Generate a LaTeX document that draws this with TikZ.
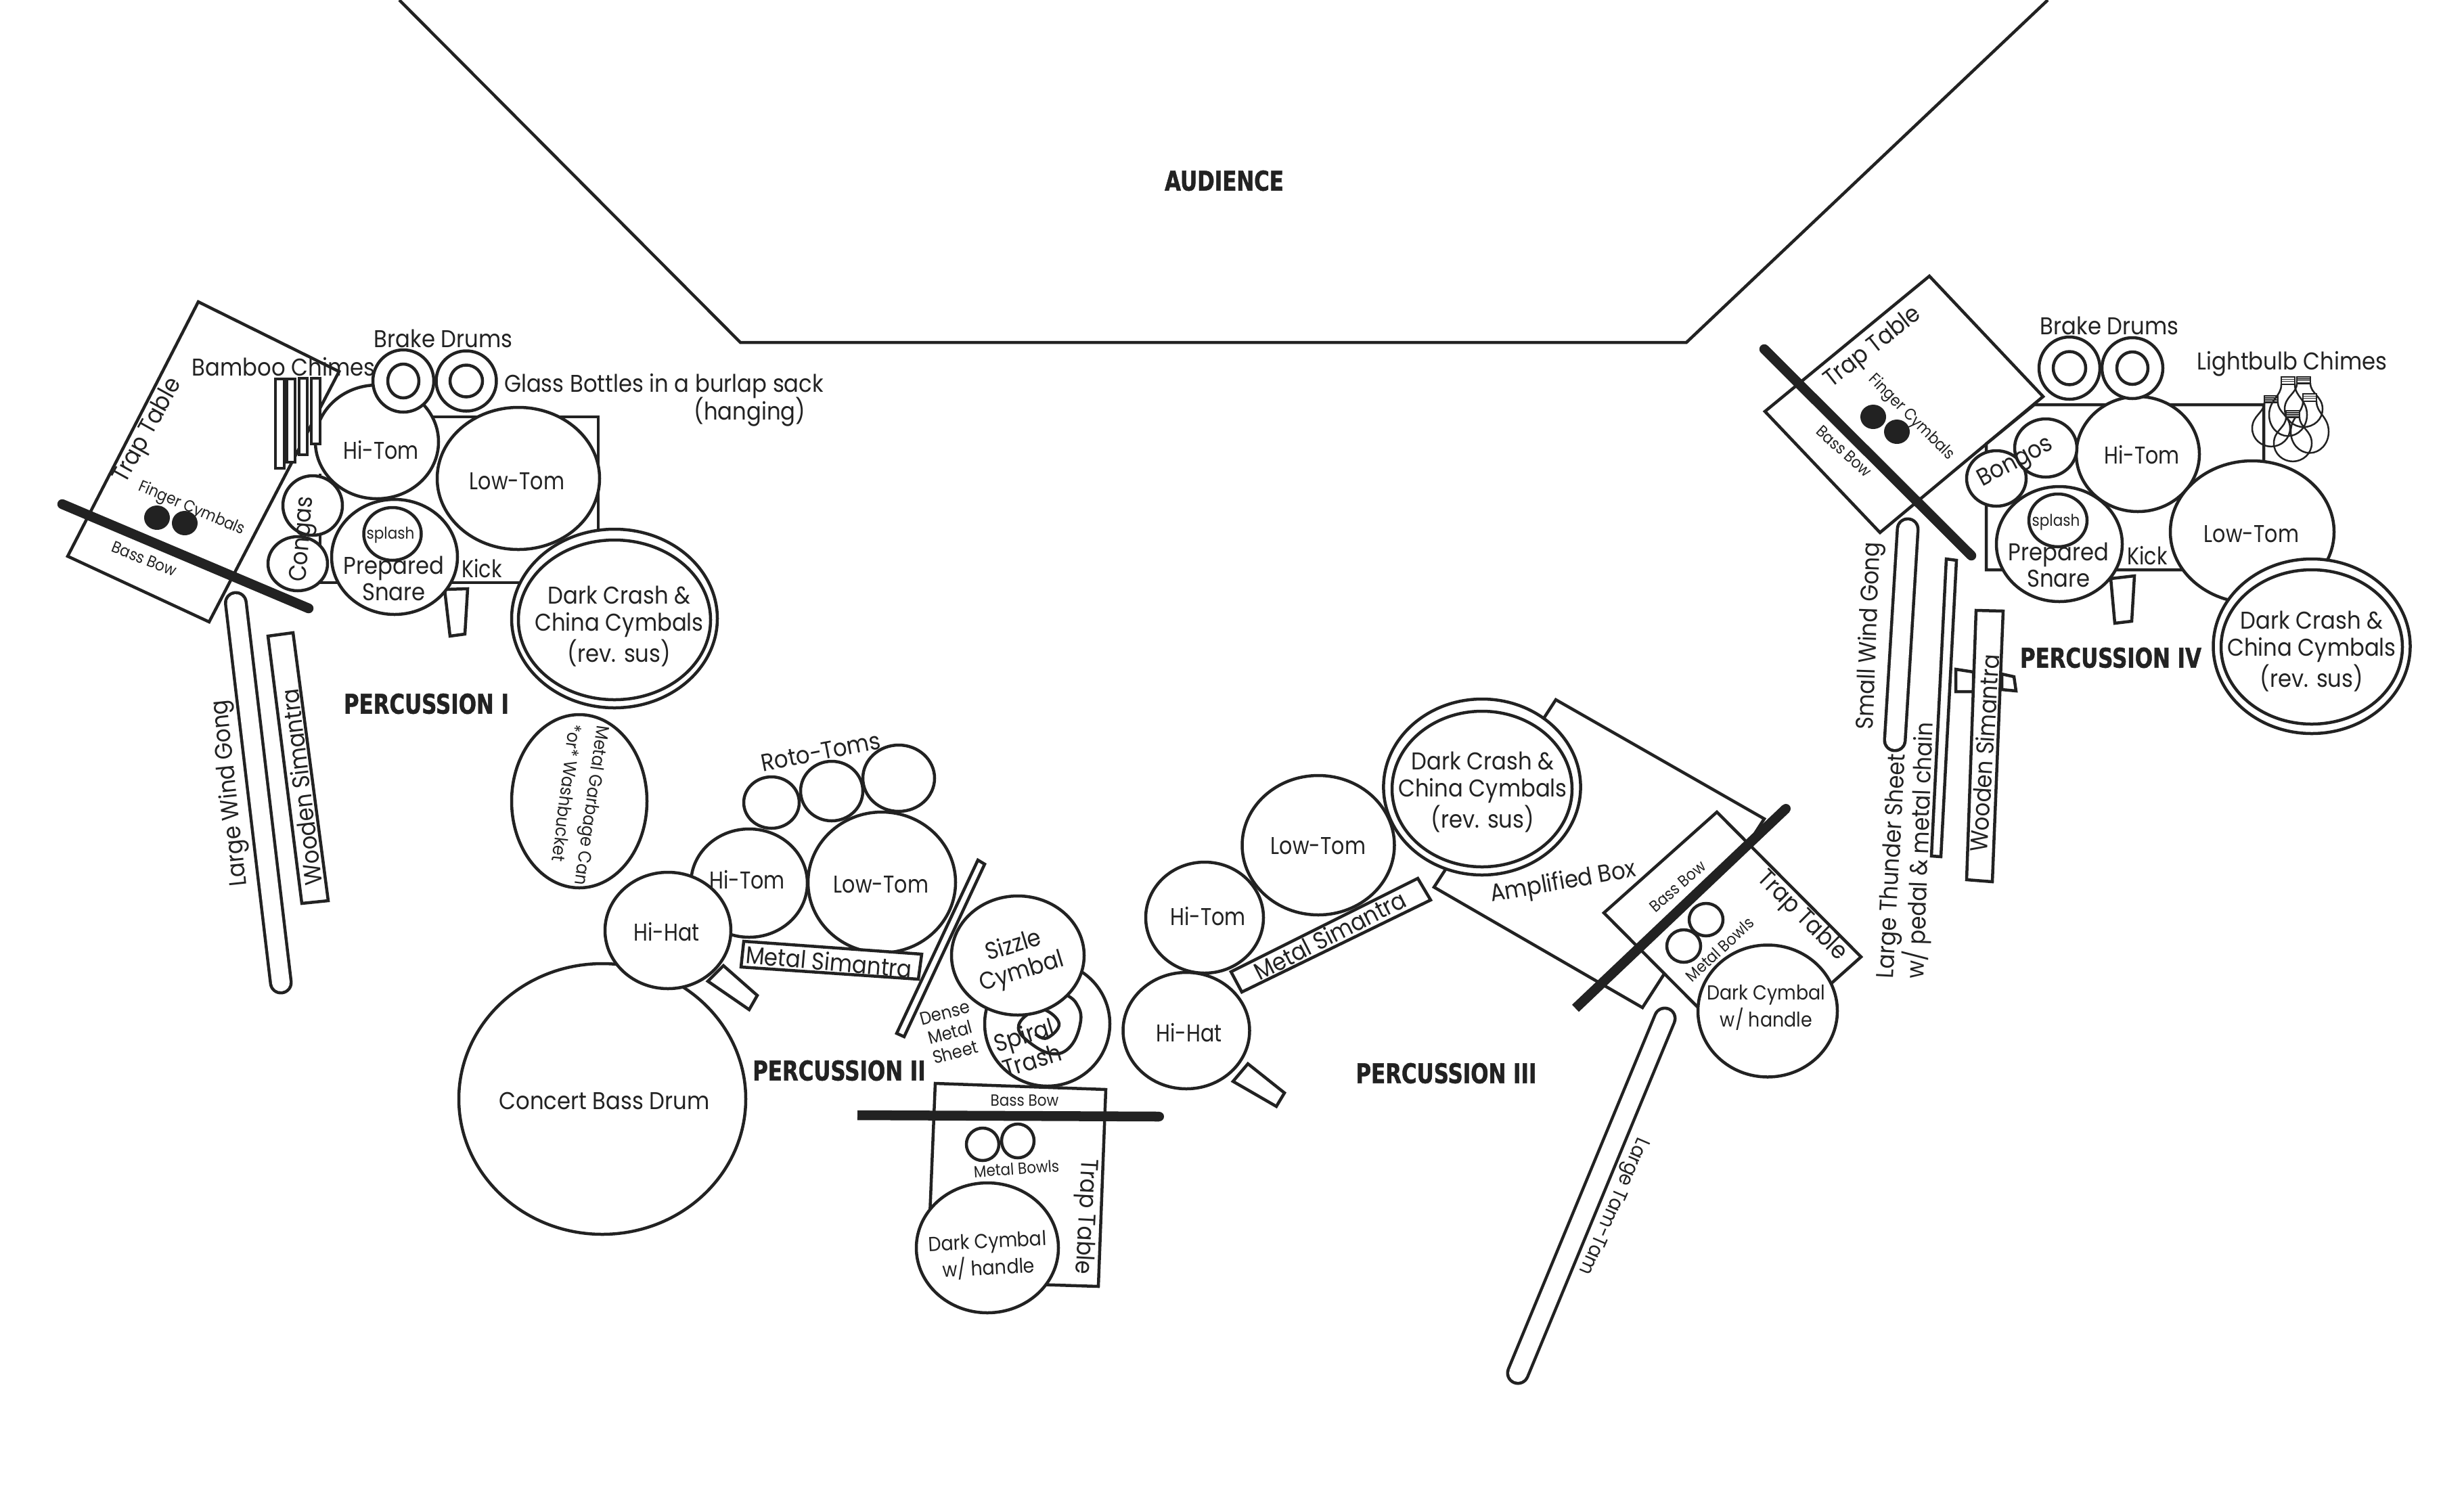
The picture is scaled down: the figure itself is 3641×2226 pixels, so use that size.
\documentclass[tikz,border=0pt]{standalone}
\usepackage{fontspec}
\setmainfont[FakeStretch=0.9]{Poppins}
\newfontfamily\tomfont[FakeStretch=0.84]{Poppins}
\newfontfamily\headfont[FakeStretch=0.77,FakeBold=1.2]{DejaVu Sans}
\definecolor{ink}{HTML}{222222}
\tikzset{
  x=0.01cm,y=-0.01cm,
  stroke/.style={draw=ink,line width=0.045cm},
  inst/.style={stroke,fill=white},
  open/.style={draw=ink,line width=0.045cm,fill=none},
  bar/.style={draw=ink,line width=0.145cm,line cap=round},
  flatbar/.style={draw=ink,line width=0.145cm,line cap=butt},
  gong/.style={draw=ink,line width=0.045cm,double=white,double distance=0.26cm,line cap=round},
  lab/.style={text=ink,inner sep=0pt,align=center,font=\fontsize{10.2}{11.3}\selectfont},
  tom/.style={lab,font=\tomfont\fontsize{10.2}{11.3}\selectfont},
  mid/.style={lab,font=\fontsize{8.5}{9.6}\selectfont},
  tiny/.style={lab,font=\fontsize{6.8}{7.6}\selectfont},
  gar/.style={lab,font=\fontsize{7.6}{8.6}\selectfont},
  head/.style={text=ink,inner sep=0pt,font=\headfont\bfseries\fontsize{11.4}{12}\selectfont},
}
\newcommand{\bulbshape}[3]{%
  \begin{scope}[shift={(#1,#2)},yscale=#3]
    \draw[ink,line width=0.025cm] (-10,10) .. controls (-10,26) and (-28,30) .. (-28,50) .. controls (-28,66) and (-15,78) .. (0,78) .. controls (15,78) and (28,66) .. (28,50) .. controls (28,30) and (10,26) .. (10,10);
    \draw[ink,line width=0.025cm,fill=white] (-10,0) rectangle (10,10);
    \draw[ink,line width=0.015cm] (-10,3) -- (10,3) (-10,6) -- (10,6);
  \end{scope}}
\begin{document}
\begin{tikzpicture}
\path[use as bounding box,fill=white] (0,0) rectangle (3641,2226);
% stage
\coordinate (s1) at (590,0);\coordinate (s2) at (1094,506);\coordinate (s3) at (2492,506);\coordinate (s4) at (3026,0);
\draw[stroke] (s1) -- (s2) -- (s3) -- (s4);
\node[head] (audience) at (1809,267) {AUDIENCE};

% ---------- Percussion I
\draw[inst] (293,446) -- (501,549) -- (309,919) -- (100,822) -- cycle;
\fill[ink] (232,765) ellipse [x radius=19,y radius=18];
\fill[ink] (273,773) ellipse [x radius=19,y radius=18];
\coordinate (b1a) at (92,745);\coordinate (b1b) at (456,899);
\draw[bar] (b1a) -- (b1b);
\filldraw[fill=white,draw=none] (600,616) -- (884,616) -- (884,861) -- (473,861) -- (473,700) -- cycle;
\draw[open] (600,616) -- (884,616) -- (884,861) -- (473,861) -- (473,700);
\coordinate (g1a) at (348.5,891);\coordinate (g1b) at (415,1452);
\draw[gong] (g1a) -- (g1b);
\draw[inst] (396,940) -- (433,935) -- (485,1331) -- (446,1335) -- cycle;
\draw[inst] (657,871) -- (691,870) -- (687,937) -- (665,940) -- cycle;
\draw[inst] (557,653) ellipse [x radius=91,y radius=84];
\draw[inst] (596,563) ellipse [x radius=45,y radius=46];
\draw[inst] (596,563) ellipse [x radius=23,y radius=25];
\draw[inst] (689,563) ellipse [x radius=44.5,y radius=44.5];
\draw[inst] (689,563) ellipse [x radius=24,y radius=23.5];
\draw[inst] (766,707) ellipse [x radius=120,y radius=105];
\draw[inst] (407,560) rectangle (420,692);
\draw[inst] (424,560) rectangle (436,683);
\draw[inst] (442,559) rectangle (454,672);
\draw[inst] (460,559) rectangle (473,656);
\draw[inst] (462,747) ellipse [x radius=44,y radius=44];
\draw[inst] (440,833) ellipse [x radius=44,y radius=40];
\draw[inst] (583,823) ellipse [x radius=93,y radius=85];
\draw[inst] (580,789) ellipse [x radius=42.5,y radius=39];
\draw[inst] (908,914) ellipse [x radius=152,y radius=132];
\draw[open] (908,916) ellipse [x radius=142,y radius=118];
\draw[inst] (856,1184) ellipse [x radius=100,y radius=128];
\node[lab] (l1a) at (655,500) {Brake Drums};
\node[lab] (l1b) at (419,542) {Bamboo Chimes};
\node[lab] (l1c) at (981,570) {Glass Bottles in a burlap sack};
\node[lab] (l1d) at (1108,609) {(hanging)};
\node[lab,rotate=61] (l1e) at (219,637) {Trap Table};
\node[tiny,rotate=-23] (l1f) at (283,752) {Finger Cymbals};
\node[tiny,rotate=-22] (l1g) at (213,826) {Bass Bow};
\node[tom] (l1h) at (563,665) {Hi-Tom};
\node[tom] (l1i) at (764,711) {Low-Tom};
\node[lab,rotate=85] (l1j) at (449,797) {Congas};
\node[lab] (l1k) at (582,855) {Prepared\\Snare};
\node[tiny] (l1l) at (577,791) {splash};
\node[tom] (l1m) at (712,840) {Kick};
\node[lab] (l1n) at (915,926) {Dark Crash \&\\China Cymbals\\(rev. sus)};
\node[head] (l1o) at (630,1040) {PERCUSSION I};
\node[lab,rotate=96] (l1p) at (341,1172) {Large Wind Gong};
\node[lab,rotate=97] (l1q) at (445,1163) {Wooden Simantra};
\node[gar,rotate=-98] (l1r) at (872,1190) {Metal Garbage Can};
\node[gar,rotate=-97] (l1s) at (838,1172) {*or* Washbucket};

% ---------- Percussion II
\draw[inst] (890,1624) ellipse [x radius=212,y radius=200];
\draw[inst] (1140,1186) ellipse [x radius=41,y radius=38];
\draw[inst] (1229,1169) ellipse [x radius=46,y radius=44];
\draw[inst] (1328,1150) ellipse [x radius=53,y radius=49];
\draw[inst] (1107,1305) ellipse [x radius=86,y radius=80];
\draw[inst] (1303,1304) ellipse [x radius=109,y radius=104];
\draw[inst] (987,1375) ellipse [x radius=93,y radius=86];
\draw[inst] (1069,1427) -- (1119,1471) -- (1107,1492) -- (1046,1450) -- cycle;
\draw[inst] (1099,1391) -- (1362,1410) -- (1357,1447) -- (1095,1429) -- cycle;
\draw[inst] (1445,1271) -- (1455,1277) -- (1336,1532) -- (1325,1527) -- cycle;
\draw[inst] (1382,1601) -- (1634,1610) -- (1623,1901) -- (1370,1893) -- cycle;
\draw[inst] (1547.5,1513) ellipse [x radius=92.5,y radius=92];
\draw[open] plot[smooth,tension=0.7] coordinates {(1575,1470) (1590,1482) (1597,1508) (1582,1546) (1553,1557) (1517,1537) (1505,1517) (1520,1498) (1543,1492) (1565,1513) (1547,1534) (1530,1528)};
\draw[inst] (1504,1412) ellipse [x radius=98,y radius=88];
\draw[open] (1452,1691) ellipse [x radius=24,y radius=24];
\draw[open] (1504,1686) ellipse [x radius=24,y radius=25];
\draw[inst] (1459,1844) ellipse [x radius=105,y radius=96];
\coordinate (b2a) at (1267,1648);\coordinate (b2b) at (1713,1650);
\draw[flatbar] (b2a) -- (b2b);
\fill[ink] (b2b) circle [radius=7];
\node[lab,rotate=11] (l2a) at (1213,1111) {Roto-Toms};
\node[tom] (l2b) at (1104,1300) {Hi-Tom};
\node[tom] (l2c) at (1302,1307) {Low-Tom};
\node[tom] (l2d) at (985,1377) {Hi-Hat};
\node[lab] (l2e) at (893,1627) {Concert Bass Drum};
\node[lab,rotate=-5] (l2f) at (1225,1421) {Metal Simantra};
\node[lab,rotate=17] (l2g) at (1504,1418) {Sizzle\\Cymbal};
\node[lab,rotate=17] (l2h) at (1519,1548) {Spiral\\Trash};
\node[gar,rotate=15] (l2i) at (1404,1526) {Dense\\Metal\\Sheet};
\node[head] (l2j) at (1240,1582) {PERCUSSION II};
\node[tiny] (l2k) at (1514,1626) {Bass Bow};
\node[tiny,rotate=4] (l2l) at (1502,1727) {Metal Bowls};
\node[mid,rotate=3] (l2m) at (1460,1856) {Dark Cymbal\\w/ handle};
\node[lab,rotate=-93] (l2n) at (1603,1798) {Trap Table};

% ---------- Percussion III
\draw[inst] (2299,1034) -- (2607,1210) -- (2427,1489) -- (2119,1311) -- cycle;
\draw[inst] (2537,1200) -- (2750,1414) -- (2583,1563) -- (2370,1349) -- cycle;
\draw[inst] (1948,1249) ellipse [x radius=112.5,y radius=103];
\draw[inst] (1780,1356) ellipse [x radius=87,y radius=82];
\draw[inst] (1753,1523) ellipse [x radius=93.5,y radius=86];
\draw[inst] (1844,1572) -- (1898,1615) -- (1886,1635) -- (1822,1598) -- cycle;
\draw[inst] (1819,1436) -- (2095,1298) -- (2114,1330) -- (1835,1466) -- cycle;
\draw[inst] (2190,1163) ellipse [x radius=145.6,y radius=130];
\draw[open] (2190,1166) ellipse [x radius=133,y radius=115];
\draw[open] (2488,1398) ellipse [x radius=25,y radius=24];
\draw[open] (2521,1359) ellipse [x radius=25,y radius=24];
\draw[inst] (2612,1494) ellipse [x radius=103,y radius=97.5];
\coordinate (b3a) at (2328,1490);\coordinate (b3b) at (2639,1195);
\draw[flatbar] (b3a) -- (b3b);
\fill[ink] (b3b) circle [radius=7];
\coordinate (g3a) at (2460,1505);\coordinate (g3b) at (2243,2029);
\draw[gong] (g3a) -- (g3b);
\node[tom] (l3a) at (1948,1250) {Low-Tom};
\node[tom] (l3b) at (1785,1354) {Hi-Tom};
\node[tom] (l3c) at (1757,1526) {Hi-Hat};
\node[lab,rotate=27] (l3d) at (1965,1382) {Metal Simantra};
\node[lab] (l3e) at (2191,1171) {Dark Crash \&\\China Cymbals\\(rev. sus)};
\node[lab,rotate=10] (l3f) at (2310,1305) {Amplified Box};
\node[tiny,rotate=41] (l3g) at (2479,1310) {Bass Bow};
\node[tiny,rotate=43] (l3h) at (2541,1403) {Metal Bowls};
\node[lab,rotate=-45] (l3i) at (2662,1354) {Trap Table};
\node[mid] (l3j) at (2610,1489) {Dark Cymbal\\w/ handle};
\node[mid,rotate=-113.4] (l3k) at (2383,1782) {Large Tam-Tam};
\node[head] (l3l) at (2137,1586) {PERCUSSION III};

% ---------- Percussion IV
\draw[inst] (2851,408) -- (3019,586) -- (2778,787) -- (2608,608) -- cycle;
\fill[ink] (2768,616) ellipse [x radius=19,y radius=18];
\fill[ink] (2803,638) ellipse [x radius=19,y radius=18];
\coordinate (b4a) at (2607,516);\coordinate (b4b) at (2913,821);
\draw[bar] (b4a) -- (b4b);
\draw[inst] (3006,598) -- (3345,598) -- (3345,842) -- (2935,842) -- (2935,656) -- cycle;
\coordinate (g4a) at (2819,782);\coordinate (g4b) at (2800,1094);
\draw[gong] (g4a) -- (g4b);
\draw[inst] (2876,826) -- (2891,828) -- (2868,1266) -- (2854,1265) -- cycle;
\draw[inst] (2890,989) -- (2916,993) -- (2916,1022) -- (2890,1022) -- cycle;
\draw[inst] (2958,996) -- (2976,1000) -- (2979,1021) -- (2958,1019) -- cycle;
\draw[inst] (2920,902) -- (2960,903) -- (2944,1303) -- (2906,1300) -- cycle;
\draw[inst] (3119,855) -- (3154,851) -- (3150,918) -- (3125,921) -- cycle;
\draw[inst] (3159,671) ellipse [x radius=91,y radius=85];
\draw[inst] (3058,544) ellipse [x radius=45,y radius=46];
\draw[inst] (3058,544) ellipse [x radius=24,y radius=24.5];
\draw[inst] (3151,544) ellipse [x radius=45,y radius=45];
\draw[inst] (3151,544) ellipse [x radius=23,y radius=24];
\draw[inst] (2950,707) ellipse [x radius=44,y radius=41];
\draw[inst] (3023,662) ellipse [x radius=46,y radius=43];
\draw[inst] (3043,804) ellipse [x radius=93,y radius=85];
\draw[inst] (3041,769) ellipse [x radius=43,y radius=39];
\draw[inst] (3328,786) ellipse [x radius=121,y radius=105];
\draw[inst] (3416,955) ellipse [x radius=145.5,y radius=129];
\draw[open] (3416,956) ellipse [x radius=134,y radius=114];
\bulbshape{3356}{585}{0.96}
\bulbshape{3381}{557}{1.12}
\bulbshape{3404}{557}{0.95}
\bulbshape{3413}{582}{1.12}
\bulbshape{3388}{607}{0.96}
\node[lab] (l4a) at (3117,481) {Brake Drums};
\node[lab] (l4b) at (3387,538) {Lightbulb Chimes};
\node[lab,rotate=38] (l4c) at (2768,514) {Trap Table};
\node[tiny,rotate=-45] (l4d) at (2824,617) {Finger Cymbals};
\node[tiny,rotate=-42] (l4e) at (2725,667) {Bass Bow};
\node[tom] (l4f) at (3165,672) {Hi-Tom};
\node[lab,rotate=28] (l4g) at (2979,684) {Bongos};
\node[tiny] (l4h) at (3038,772) {splash};
\node[lab] (l4i) at (3042,835) {Prepared\\Snare};
\node[tom] (l4j) at (3173,821) {Kick};
\node[tom] (l4k) at (3327,789) {Low-Tom};
\node[lab] (l4l) at (3416,963) {Dark Crash \&\\China Cymbals\\(rev. sus)};
\node[head] (l4m) at (3119,972) {PERCUSSION IV};
\node[lab,rotate=88] (l4n) at (2764,940) {Small Wind Gong};
\node[lab,rotate=87] (l4o) at (2798,1280) {Large Thunder Sheet};
\node[lab,rotate=88] (l4q) at (2837,1257) {w/ pedal \& metal chain};
\node[lab,rotate=86.5] (l4p) at (2932,1113) {Wooden Simantra};
\end{tikzpicture}
\end{document}
